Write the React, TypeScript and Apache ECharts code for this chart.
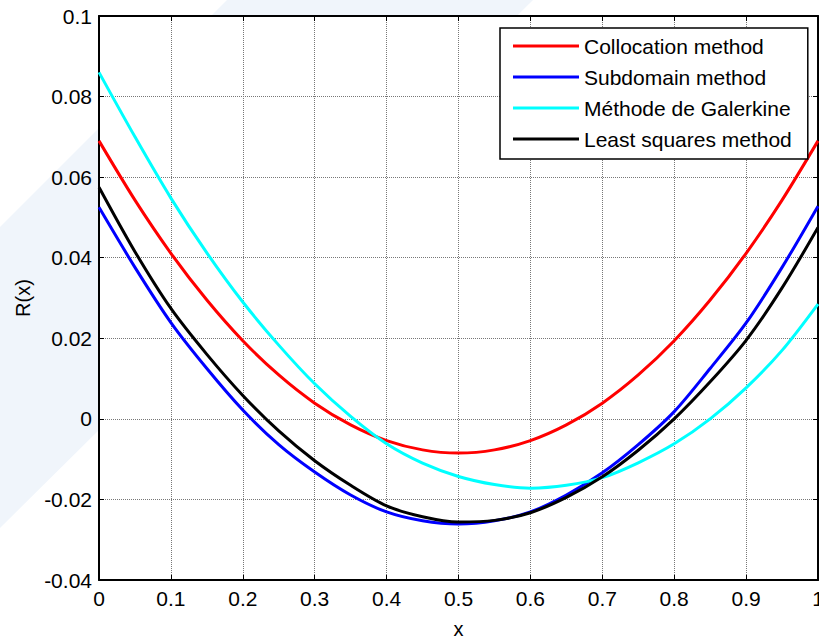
import React, { useEffect, useRef } from "react";
import * as echarts from "echarts";

const xs = [0, 0.05, 0.1, 0.15, 0.2, 0.25, 0.3, 0.35, 0.4, 0.45, 0.5, 0.55, 0.6, 0.65, 0.7, 0.75, 0.8, 0.85, 0.9, 0.95, 1];

const collocation = [0.069, 0.0543, 0.0411, 0.0295, 0.0194, 0.0109, 0.0039, -0.0015, -0.0054, -0.0077, -0.0085, -0.0077, -0.0054, -0.0015, 0.0039, 0.0109, 0.0194, 0.0295, 0.0411, 0.0543, 0.069];
const subdomain = [0.0525, 0.0376, 0.0239, 0.0125, 0.0022, -0.0064, -0.0132, -0.0189, -0.0231, -0.0253, -0.0261, -0.0253, -0.0231, -0.0189, -0.0134, -0.0064, 0.0018, 0.0125, 0.0238, 0.0376, 0.0528];
const galerkin = [0.086, 0.07, 0.0548, 0.0412, 0.029, 0.0183, 0.0087, 0.0006, -0.0062, -0.011, -0.0143, -0.0163, -0.0172, -0.0165, -0.0146, -0.0109, -0.0062, 0.0, 0.0077, 0.017, 0.0285];
const leastSquares = [0.0575, 0.0415, 0.0274, 0.016, 0.0058, -0.003, -0.0104, -0.0165, -0.0216, -0.0243, -0.0256, -0.0252, -0.0233, -0.0195, -0.0144, -0.0078, 0.0, 0.0092, 0.0195, 0.0325, 0.0475];

const seriesNames = ["Collocation method", "Subdomain method", "Méthode de Galerkine", "Least squares method"];
const seriesColors = ["#ff0000", "#0000ff", "#00ffff", "#000000"];

const xTickLabels = ["0", "0.1", "0.2", "0.3", "0.4", "0.5", "0.6", "0.7", "0.8", "0.9", "1"];
const yTickLabels = ["-0.04", "-0.02", "0", "0.02", "0.04", "0.06", "0.08", "0.1"];

const FONT = "'Liberation Sans', Arial, sans-serif";

export default function App() {
  const ref = useRef<HTMLDivElement>(null);
  useEffect(() => {
    if (!ref.current) return;
    const chart = echarts.init(ref.current, undefined, { renderer: "svg" });
    const allValues = [collocation, subdomain, galerkin, leastSquares];
    const axisCommon = {
      type: "value" as const,
      axisLine: { show: true, onZero: false, lineStyle: { color: "#000", width: 2 } },
      axisTick: { show: true, inside: true, length: 5, lineStyle: { color: "#000", width: 1 } },
    };
    chart.setOption({
      animation: false,
      backgroundColor: "#fff",
      textStyle: { fontFamily: FONT },
      graphic: [
        {
          type: "polygon",
          z: -10,
          silent: true,
          shape: { points: [[227, 0], [533, 0], [0, 528], [0, 227]] },
          style: { fill: "#f0f5fb" },
        },
      ],
      grid: {
        left: 99,
        right: 1,
        top: 16,
        bottom: 59,
        show: true,
        backgroundColor: "#ffffff",
        borderWidth: 0,
        containLabel: false,
        outerBoundsMode: "none",
        z: 0,
      },
      legend: {
        data: seriesNames,
        orient: "vertical",
        left: 500,
        top: 28,
        padding: [7, 16, 9, 13],
        itemGap: 9,
        itemWidth: 66,
        itemHeight: 3,
        icon: "rect",
        backgroundColor: "#fff",
        borderColor: "#000",
        borderWidth: 1.5,
        borderRadius: 0,
        textStyle: { fontSize: 21, lineHeight: 22, color: "#000", fontFamily: FONT },
      },
      xAxis: [
        {
          ...axisCommon,
          min: 0,
          max: 1,
          interval: 0.1,
          position: "bottom",
          name: "x",
          nameLocation: "middle",
          nameGap: 39,
          nameTextStyle: { fontSize: 20, color: "#000", fontFamily: FONT },
          axisLabel: {
            show: true,
            fontSize: 21,
            color: "#000",
            margin: 8,
            fontFamily: FONT,
            formatter: (v: number) => xTickLabels[Math.round(v * 10)] ?? String(v),
          },
          splitLine: { show: true, lineStyle: { color: "#777", type: "dotted", width: 1 } },
        },
        {
          ...axisCommon,
          min: 0,
          max: 1,
          interval: 0.1,
          position: "top",
          axisLabel: { show: false },
          splitLine: { show: false },
        },
      ],
      yAxis: [
        {
          ...axisCommon,
          min: -0.04,
          max: 0.1,
          interval: 0.02,
          position: "left",
          name: "R(x)",
          nameLocation: "middle",
          nameGap: 66,
          nameTextStyle: { fontSize: 20, color: "#000", fontFamily: FONT },
          axisLabel: {
            show: true,
            fontSize: 21,
            color: "#000",
            margin: 7,
            fontFamily: FONT,
            formatter: (v: number) => yTickLabels[Math.round((v + 0.04) / 0.02)] ?? String(v),
          },
          splitLine: { show: true, lineStyle: { color: "#777", type: "dotted", width: 1 } },
        },
        {
          ...axisCommon,
          min: -0.04,
          max: 0.1,
          interval: 0.02,
          position: "right",
          axisLabel: { show: false },
          splitLine: { show: false },
        },
      ],
      series: seriesNames.map((name, i) => ({
        name,
        type: "line",
        xAxisIndex: 0,
        yAxisIndex: 0,
        data: xs.map((x, j) => [x, allValues[i][j]]),
        showSymbol: false,
        symbol: "none",
        smooth: 0.3,
        clip: true,
        color: seriesColors[i],
        lineStyle: { color: seriesColors[i], width: 3 },
        z: 3,
      })),
    });
    return () => chart.dispose();
  }, []);
  return (
    <div
      ref={ref}
      style={{ position: "fixed", left: 0, top: 0, width: 819, height: 639 }}
    />
  );
}
